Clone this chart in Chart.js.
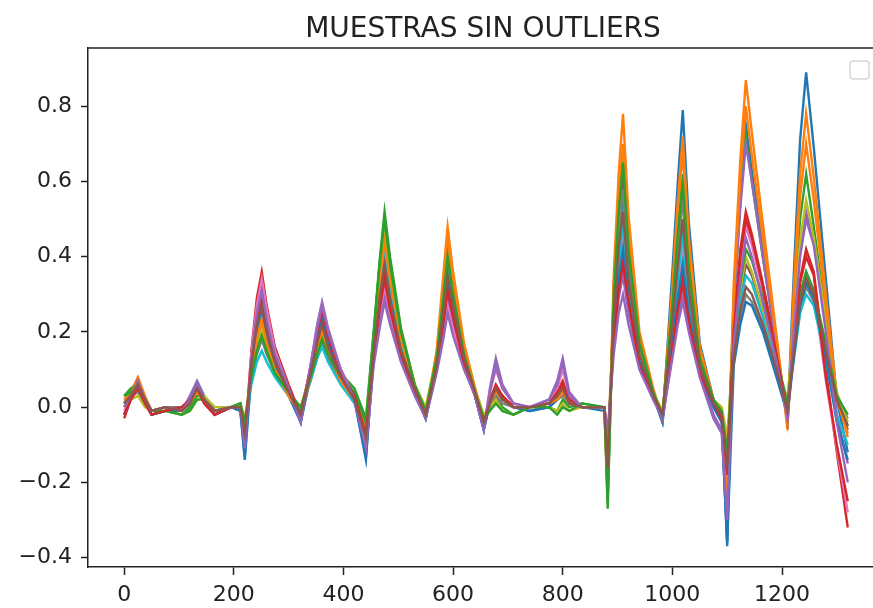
<!DOCTYPE html>
<html>
<head>
<meta charset="utf-8">
<title>MUESTRAS SIN OUTLIERS</title>
<script src="https://cdn.jsdelivr.net/npm/chart.js@4.4.1/dist/chart.umd.min.js"></script>
<style>
  html, body { margin: 0; padding: 0; background: #fff; overflow: hidden; }
  canvas { display: block; filter: blur(0.5px); }
</style>
</head>
<body>
<canvas id="grafico" width="873" height="608"></canvas>
<script>
// --- DATOS ---
const titulo = 'MUESTRAS SIN OUTLIERS';

// eje x: índice de la variable (puntos clave de cada espectro)
const indice = [0, 12, 25, 38, 50, 75, 105, 120, 133, 146, 165, 195, 212, 220,
  232, 242, 251, 260, 275, 300, 322,
  340, 352, 361, 372, 395, 420, 441,
  455, 466, 475, 485, 505, 530, 550,
  570, 582, 590, 600, 620, 640, 656,
  667, 678, 690, 710, 740, 775, 790, 800, 812, 835, 876, 882,
  893, 902, 910, 920, 940, 965, 982,
  1000, 1010, 1019, 1030, 1050, 1075, 1090, 1100,
  1112, 1124, 1134, 1145, 1165, 1190, 1210,
  1222, 1233, 1244, 1258, 1280, 1300, 1320];

const ticksX = [0, 200, 400, 600, 800, 1000, 1200];
const ticksY = [-0.4, -0.2, 0.0, 0.2, 0.4, 0.6, 0.8];

const m01 = [-0.02, 0.03, 0.07, 0.02, -0.02, -0.01, -0.01, 0.02, 0.06, 0.02, -0.02, 0.0, -0.01, -0.14,
  0.09, 0.18, 0.22, 0.16, 0.09, 0.03, -0.04,
  0.08, 0.16, 0.20, 0.14, 0.07, 0.02, -0.14,
  0.14, 0.28, 0.38, 0.29, 0.15, 0.05, -0.03,
  0.11, 0.24, 0.33, 0.25, 0.12, 0.03, -0.06,
  0.01, 0.04, 0.02, 0.0, -0.01, 0.0, 0.02, 0.04, 0.01, 0.0, 0.0, -0.12,
  0.25, 0.44, 0.55, 0.36, 0.14, 0.03, -0.04,
  0.36, 0.60, 0.79, 0.49, 0.17, 0.02, -0.03, -0.37,
  0.29, 0.57, 0.75, 0.63, 0.42, 0.17, -0.04,
  0.37, 0.71, 0.89, 0.69, 0.34, 0.02, -0.12];

const m02 = [0.01, 0.04, 0.08, 0.03, -0.01, 0.0, -0.01, 0.02, 0.05, 0.02, -0.01, 0.0, 0.0, -0.07,
  0.10, 0.20, 0.25, 0.18, 0.11, 0.03, -0.02,
  0.09, 0.17, 0.22, 0.16, 0.08, 0.02, -0.06,
  0.19, 0.38, 0.50, 0.38, 0.20, 0.06, -0.02,
  0.15, 0.35, 0.48, 0.36, 0.17, 0.05, -0.04,
  0.02, 0.05, 0.03, 0.0, 0.0, 0.01, 0.03, 0.05, 0.02, 0.0, 0.0, -0.24,
  0.35, 0.62, 0.78, 0.51, 0.20, 0.05, -0.03,
  0.32, 0.55, 0.72, 0.45, 0.16, 0.02, -0.02, -0.25,
  0.33, 0.66, 0.87, 0.73, 0.49, 0.19, -0.06,
  0.33, 0.62, 0.78, 0.61, 0.30, 0.03, -0.08];

const m03 = [0.03, 0.05, 0.06, 0.02, -0.02, -0.01, -0.02, 0.0, 0.03, 0.03, -0.01, 0.0, 0.01, -0.05,
  0.08, 0.16, 0.20, 0.15, 0.10, 0.04, -0.01,
  0.10, 0.15, 0.19, 0.15, 0.09, 0.05, -0.03,
  0.20, 0.39, 0.52, 0.40, 0.21, 0.06, -0.01,
  0.13, 0.30, 0.42, 0.32, 0.15, 0.04, -0.03,
  0.0, 0.03, 0.0, -0.02, 0.0, 0.0, -0.01, 0.02, 0.0, 0.01, 0.0, -0.27,
  0.31, 0.54, 0.68, 0.44, 0.18, 0.04, -0.02,
  0.28, 0.47, 0.62, 0.38, 0.14, 0.02, -0.01, -0.15,
  0.27, 0.55, 0.72, 0.60, 0.40, 0.16, -0.03,
  0.26, 0.50, 0.62, 0.48, 0.24, 0.03, -0.05];

const m04 = [-0.03, 0.02, 0.05, 0.01, -0.02, -0.01, 0.0, 0.02, 0.05, 0.01, -0.02, 0.0, 0.0, -0.09,
  0.15, 0.29, 0.36, 0.27, 0.16, 0.06, -0.02,
  0.11, 0.20, 0.25, 0.19, 0.10, 0.03, -0.08,
  0.14, 0.27, 0.35, 0.27, 0.15, 0.05, -0.02,
  0.11, 0.22, 0.30, 0.23, 0.12, 0.04, -0.05,
  0.02, 0.06, 0.03, 0.0, 0.0, 0.01, 0.04, 0.07, 0.02, 0.0, 0.0, -0.10,
  0.19, 0.33, 0.40, 0.30, 0.12, 0.03, -0.02,
  0.17, 0.28, 0.35, 0.25, 0.10, 0.01, -0.03, -0.20,
  0.22, 0.42, 0.52, 0.46, 0.33, 0.15, -0.02,
  0.19, 0.34, 0.42, 0.36, 0.10, -0.12, -0.32];

const m05 = [0.0, 0.03, 0.07, 0.02, -0.01, 0.0, -0.01, 0.03, 0.07, 0.03, -0.01, 0.0, 0.0, -0.12,
  0.13, 0.26, 0.33, 0.25, 0.15, 0.05, -0.04,
  0.11, 0.22, 0.28, 0.21, 0.10, 0.02, -0.12,
  0.12, 0.23, 0.30, 0.23, 0.13, 0.04, -0.03,
  0.10, 0.21, 0.28, 0.22, 0.11, 0.03, -0.06,
  0.05, 0.13, 0.06, 0.01, 0.0, 0.02, 0.07, 0.13, 0.04, 0.0, 0.0, -0.08,
  0.17, 0.29, 0.35, 0.25, 0.11, 0.03, -0.03,
  0.14, 0.24, 0.30, 0.21, 0.09, -0.02, -0.06, -0.34,
  0.27, 0.53, 0.70, 0.60, 0.40, 0.16, -0.04,
  0.22, 0.42, 0.52, 0.44, 0.22, -0.02, -0.15];

const m06 = [0.01, 0.04, 0.06, 0.02, -0.01, 0.0, -0.01, 0.01, 0.05, 0.02, -0.01, 0.0, 0.0, -0.08,
  0.11, 0.22, 0.28, 0.21, 0.13, 0.04, -0.03,
  0.10, 0.19, 0.24, 0.18, 0.09, 0.02, -0.09,
  0.15, 0.30, 0.40, 0.31, 0.16, 0.05, -0.02,
  0.12, 0.27, 0.38, 0.29, 0.14, 0.04, -0.05,
  0.01, 0.05, 0.02, 0.0, 0.0, 0.01, 0.03, 0.05, 0.01, 0.0, 0.0, -0.18,
  0.28, 0.50, 0.62, 0.41, 0.16, 0.04, -0.03,
  0.26, 0.44, 0.58, 0.37, 0.13, 0.01, -0.02, -0.18,
  0.16, 0.30, 0.38, 0.35, 0.26, 0.12, -0.01,
  0.16, 0.29, 0.35, 0.30, 0.16, 0.02, -0.06];

const m07 = [-0.01, 0.02, 0.05, 0.01, -0.02, -0.01, -0.01, 0.02, 0.06, 0.02, -0.02, 0.0, 0.0, -0.10,
  0.14, 0.27, 0.34, 0.26, 0.15, 0.05, -0.03,
  0.11, 0.21, 0.27, 0.20, 0.10, 0.03, -0.10,
  0.13, 0.25, 0.32, 0.25, 0.14, 0.04, -0.02,
  0.10, 0.20, 0.27, 0.21, 0.11, 0.03, -0.05,
  0.04, 0.10, 0.05, 0.01, 0.0, 0.02, 0.05, 0.10, 0.03, 0.0, 0.0, -0.12,
  0.21, 0.37, 0.45, 0.31, 0.13, 0.03, -0.02,
  0.18, 0.31, 0.40, 0.27, 0.10, 0.0, -0.04, -0.24,
  0.20, 0.38, 0.48, 0.43, 0.31, 0.14, -0.03,
  0.16, 0.30, 0.36, 0.31, 0.07, -0.11, -0.28];

const m08 = [0.02, 0.03, 0.04, 0.01, -0.01, 0.0, 0.0, 0.01, 0.04, 0.02, -0.01, 0.0, 0.01, -0.04,
  0.07, 0.14, 0.18, 0.14, 0.09, 0.03, -0.01,
  0.07, 0.13, 0.17, 0.13, 0.07, 0.02, -0.05,
  0.17, 0.34, 0.45, 0.35, 0.18, 0.05, -0.01,
  0.13, 0.29, 0.40, 0.31, 0.15, 0.04, -0.03,
  0.01, 0.03, 0.01, 0.0, 0.0, 0.0, 0.02, 0.03, 0.01, 0.0, 0.0, -0.15,
  0.26, 0.46, 0.58, 0.38, 0.15, 0.04, -0.02,
  0.25, 0.42, 0.55, 0.35, 0.13, 0.02, -0.01, -0.10,
  0.13, 0.24, 0.30, 0.28, 0.21, 0.10, 0.0,
  0.14, 0.26, 0.32, 0.28, 0.15, 0.03, -0.03];

const m09 = [0.0, 0.02, 0.03, 0.0, -0.01, -0.01, -0.02, -0.01, 0.02, 0.03, 0.0, 0.0, 0.01, -0.03,
  0.08, 0.17, 0.21, 0.16, 0.10, 0.04, 0.0,
  0.09, 0.16, 0.21, 0.16, 0.09, 0.03, -0.04,
  0.18, 0.35, 0.47, 0.36, 0.19, 0.06, 0.0,
  0.14, 0.32, 0.44, 0.34, 0.16, 0.05, -0.02,
  0.0, 0.02, -0.01, -0.02, 0.0, 0.0, -0.01, 0.01, -0.01, 0.0, 0.0, -0.09,
  0.23, 0.40, 0.50, 0.33, 0.14, 0.04, -0.01,
  0.22, 0.37, 0.48, 0.30, 0.11, 0.02, 0.0, -0.08,
  0.16, 0.31, 0.40, 0.36, 0.26, 0.12, 0.02,
  0.24, 0.44, 0.55, 0.45, 0.23, 0.04, -0.04];

const m10 = [0.01, 0.03, 0.05, 0.01, -0.02, -0.01, -0.01, 0.01, 0.04, 0.02, -0.01, 0.0, 0.0, -0.06,
  0.06, 0.12, 0.15, 0.12, 0.08, 0.03, -0.01,
  0.07, 0.13, 0.16, 0.12, 0.06, 0.01, -0.06,
  0.16, 0.32, 0.42, 0.32, 0.17, 0.05, -0.02,
  0.12, 0.26, 0.36, 0.28, 0.13, 0.04, -0.04,
  0.01, 0.04, 0.02, 0.0, 0.0, 0.01, 0.02, 0.04, 0.01, 0.0, 0.0, -0.14,
  0.22, 0.38, 0.48, 0.32, 0.13, 0.03, -0.02,
  0.20, 0.34, 0.45, 0.29, 0.11, 0.02, -0.02, -0.22,
  0.15, 0.28, 0.35, 0.33, 0.24, 0.10, 0.01,
  0.13, 0.25, 0.30, 0.27, 0.12, -0.02, -0.10];

const m11 = [-0.02, 0.02, 0.06, 0.02, -0.02, -0.01, -0.01, 0.02, 0.06, 0.02, -0.02, 0.0, -0.01, -0.13,
  0.10, 0.21, 0.26, 0.19, 0.11, 0.04, -0.04,
  0.09, 0.18, 0.23, 0.17, 0.08, 0.02, -0.13,
  0.14, 0.27, 0.36, 0.27, 0.14, 0.04, -0.03,
  0.10, 0.23, 0.32, 0.24, 0.12, 0.03, -0.06,
  0.01, 0.04, 0.02, 0.0, -0.01, 0.0, 0.02, 0.04, 0.01, 0.0, -0.01, -0.10,
  0.19, 0.34, 0.42, 0.29, 0.12, 0.03, -0.04,
  0.17, 0.29, 0.38, 0.25, 0.09, 0.0, -0.04, -0.36,
  0.11, 0.22, 0.28, 0.27, 0.20, 0.08, -0.02,
  0.14, 0.27, 0.33, 0.29, 0.13, -0.04, -0.14];

const m12 = [0.02, 0.04, 0.06, 0.02, -0.01, 0.0, -0.01, 0.01, 0.04, 0.02, -0.01, 0.0, 0.0, -0.06,
  0.09, 0.18, 0.23, 0.17, 0.10, 0.03, -0.02,
  0.08, 0.16, 0.20, 0.15, 0.07, 0.02, -0.06,
  0.17, 0.33, 0.44, 0.34, 0.18, 0.05, -0.02,
  0.14, 0.32, 0.45, 0.34, 0.16, 0.05, -0.04,
  0.01, 0.04, 0.02, 0.0, 0.0, 0.01, 0.02, 0.04, 0.01, 0.0, 0.0, -0.22,
  0.32, 0.56, 0.70, 0.46, 0.18, 0.04, -0.03,
  0.31, 0.52, 0.68, 0.42, 0.15, 0.02, -0.02, -0.22,
  0.30, 0.61, 0.80, 0.67, 0.45, 0.18, -0.05,
  0.29, 0.56, 0.70, 0.55, 0.27, 0.02, -0.07];

const m13 = [0.03, 0.04, 0.05, 0.02, -0.01, -0.01, -0.02, -0.01, 0.02, 0.02, -0.01, 0.0, 0.01, -0.04,
  0.08, 0.15, 0.19, 0.15, 0.09, 0.04, 0.0,
  0.08, 0.14, 0.18, 0.14, 0.08, 0.04, -0.04,
  0.19, 0.38, 0.50, 0.38, 0.20, 0.06, -0.01,
  0.13, 0.29, 0.40, 0.30, 0.14, 0.04, -0.03,
  -0.01, 0.01, -0.01, -0.02, 0.0, 0.0, -0.02, 0.0, -0.01, 0.01, 0.0, -0.25,
  0.29, 0.52, 0.65, 0.42, 0.17, 0.04, -0.02,
  0.27, 0.46, 0.60, 0.37, 0.13, 0.02, -0.01, -0.12,
  0.18, 0.33, 0.42, 0.39, 0.29, 0.13, 0.01,
  0.17, 0.30, 0.36, 0.31, 0.17, 0.03, -0.02];

const m14 = [-0.02, 0.02, 0.05, 0.01, -0.02, -0.01, 0.0, 0.02, 0.05, 0.01, -0.02, 0.0, 0.0, -0.08,
  0.12, 0.24, 0.30, 0.22, 0.13, 0.05, -0.02,
  0.10, 0.20, 0.26, 0.19, 0.09, 0.03, -0.07,
  0.13, 0.26, 0.34, 0.26, 0.14, 0.04, -0.02,
  0.10, 0.22, 0.31, 0.24, 0.11, 0.03, -0.05,
  0.02, 0.05, 0.03, 0.0, 0.0, 0.01, 0.04, 0.06, 0.02, 0.0, 0.0, -0.09,
  0.17, 0.31, 0.38, 0.28, 0.11, 0.03, -0.02,
  0.15, 0.26, 0.33, 0.23, 0.09, 0.01, -0.03, -0.18,
  0.20, 0.40, 0.50, 0.45, 0.32, 0.14, -0.02,
  0.18, 0.33, 0.40, 0.35, 0.08, -0.10, -0.25];

const m15 = [0.0, 0.03, 0.06, 0.02, -0.01, 0.0, -0.01, 0.02, 0.06, 0.02, -0.01, 0.0, 0.0, -0.11,
  0.12, 0.25, 0.31, 0.23, 0.14, 0.05, -0.04,
  0.11, 0.21, 0.27, 0.20, 0.10, 0.02, -0.11,
  0.11, 0.21, 0.28, 0.22, 0.12, 0.03, -0.03,
  0.09, 0.18, 0.25, 0.19, 0.10, 0.03, -0.06,
  0.04, 0.11, 0.05, 0.01, 0.0, 0.02, 0.06, 0.12, 0.03, 0.0, 0.0, -0.07,
  0.14, 0.25, 0.30, 0.22, 0.10, 0.02, -0.03,
  0.13, 0.22, 0.28, 0.20, 0.08, -0.03, -0.07, -0.30,
  0.17, 0.34, 0.45, 0.40, 0.28, 0.12, -0.03,
  0.21, 0.40, 0.50, 0.43, 0.20, -0.04, -0.20];

const m16 = [0.01, 0.03, 0.06, 0.02, -0.01, 0.0, -0.01, 0.01, 0.05, 0.02, -0.01, 0.0, 0.0, -0.07,
  0.11, 0.22, 0.27, 0.20, 0.12, 0.04, -0.02,
  0.09, 0.17, 0.22, 0.16, 0.08, 0.02, -0.08,
  0.14, 0.29, 0.38, 0.29, 0.15, 0.05, -0.02,
  0.11, 0.25, 0.35, 0.27, 0.13, 0.04, -0.04,
  0.01, 0.05, 0.02, 0.0, 0.0, 0.01, 0.03, 0.05, 0.01, 0.0, 0.0, -0.16,
  0.23, 0.42, 0.52, 0.34, 0.14, 0.03, -0.02,
  0.22, 0.38, 0.50, 0.31, 0.11, 0.01, -0.02, -0.16,
  0.13, 0.26, 0.32, 0.30, 0.22, 0.10, -0.01,
  0.15, 0.28, 0.34, 0.30, 0.15, 0.02, -0.05];

const muestras = [m01, m02, m03, m04, m05, m06, m07, m08, m09, m10, m11, m12, m13, m14, m15, m16];

// colores por defecto de matplotlib (tab10)
const colores = ['#1f77b4', '#ff7f0e', '#2ca02c', '#d62728', '#9467bd',
  '#8c564b', '#e377c2', '#7f7f7f', '#bcbd22', '#17becf'];

// --- GRÁFICO ---
Chart.defaults.font.family = "'DejaVu Sans', sans-serif";
Chart.defaults.color = '#222';

const datasets = muestras.map((serie, i) => ({
  label: 'muestra ' + (i + 1),
  data: indice.map((x, k) => ({ x: x, y: serie[k] })),
  borderColor: colores[i % colores.length],
  borderWidth: 2.4,
  pointRadius: 0,
  tension: 0,
  fill: false,
  order: muestras.length - i   // la última encima, como en matplotlib
}));

// título centrado sobre los ejes, borde superior y leyenda vacía
const decoracion = {
  id: 'decoracion',
  afterDraw(chart) {
    const { ctx, chartArea } = chart;
    const xs = chart.scales.x;
    ctx.save();
    ctx.strokeStyle = '#222';
    ctx.lineWidth = 1.5;
    ctx.beginPath();
    ctx.moveTo(chartArea.left, chartArea.top);
    ctx.lineTo(chartArea.right, chartArea.top);
    ctx.stroke();

    ctx.fillStyle = '#222';
    ctx.font = "28px 'DejaVu Sans'";
    ctx.textAlign = 'center';
    ctx.textBaseline = 'alphabetic';
    const centro = xs.getPixelForValue((-66 + 1386) / 2) - 3;
    ctx.fillText(titulo, centro, 37);

    // leyenda vacía (sin etiquetas)
    ctx.fillStyle = 'rgba(255,255,255,0.8)';
    ctx.strokeStyle = '#d6d6d6';
    ctx.lineWidth = 1.5;
    ctx.beginPath();
    ctx.roundRect(chartArea.right - 23, chartArea.top + 13, 19, 18, 3);
    ctx.fill();
    ctx.stroke();
    ctx.restore();
  }
};

new Chart(document.getElementById('grafico').getContext('2d'), {
  type: 'line',
  data: { datasets: datasets },
  options: {
    responsive: false,
    animation: false,
    events: [],
    layout: { padding: { top: 48, left: 0, right: 0, bottom: 0 } },
    plugins: {
      legend: { display: false },
      title: { display: false },
      tooltip: { enabled: false }
    },
    scales: {
      x: {
        type: 'linear',
        min: -66,
        max: 1366,
        afterBuildTicks: (s) => { s.ticks = ticksX.map(v => ({ value: v })); },
        afterFit: (s) => { s.height = 41; },
        grid: { drawOnChartArea: false, drawTicks: true, tickLength: 8, tickColor: '#222', tickWidth: 1.5 },
        border: { display: true, color: '#222', width: 1.5 },
        ticks: { font: { size: 22 }, color: '#222', padding: 7, maxRotation: 0, callback: (v) => String(v) }
      },
      y: {
        min: -0.425,
        max: 0.955,
        afterBuildTicks: (s) => { s.ticks = ticksY.map(v => ({ value: v })); },
        afterFit: (s) => { s.width = 88; },
        grid: { drawOnChartArea: false, drawTicks: true, tickLength: 7, tickColor: '#222', tickWidth: 1.5 },
        border: { display: true, color: '#222', width: 1.5 },
        ticks: {
          font: { size: 22 },
          color: '#222',
          padding: 9,
          callback: (v) => v.toFixed(1).replace('-', '\u2212')
        }
      }
    }
  },
  plugins: [decoracion]
});
</script>
</body>
</html>
